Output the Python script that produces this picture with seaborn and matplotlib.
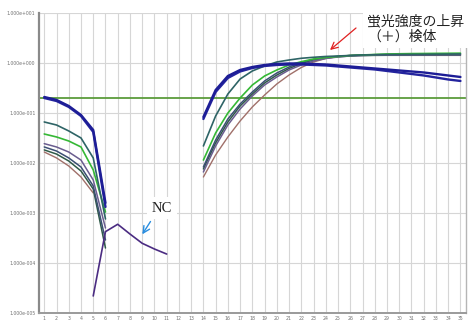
import numpy as np
import pandas as pd
import matplotlib
matplotlib.use("Agg")
import matplotlib.pyplot as plt
import seaborn as sns
from matplotlib.ticker import FuncFormatter, NullLocator

# Amplification data (delta Rn per cycle)
early_cycles = [1, 2, 3, 4, 5, 6]
late_cycles = list(range(14, 36))
nc_cycles = [5, 6, 7, 8, 9, 10, 11]

early_values = {
    "blue_a": [0.212, 0.185, 0.140, 0.0925, 0.0463, 0.00161],
    "blue_b": [0.202, 0.176, 0.134, 0.0883, 0.0423, 0.00134],
    "teal": [0.0670, 0.0583, 0.0443, 0.0321, 0.0128, 0.000769],
    "green": [0.0385, 0.0336, 0.0279, 0.0212, 0.00735, 0.00106],
    "purple": [0.0247, 0.0212, 0.0168, 0.0116, 0.00463, 0.000508],
    "slate": [0.0212, 0.0176, 0.0128, 0.00843, 0.00352, 0.000292],
    "dark": [0.0185, 0.0153, 0.0111, 0.00701, 0.00306, 0.000202],
    "brown": [0.0168, 0.0128, 0.00883, 0.00532, 0.00255],
}

late_values = {
    "blue_a": [0.0843, 0.292, 0.557, 0.735, 0.843, 0.925, 0.968, 0.991, 0.991, 0.968, 0.946,
               0.904, 0.863, 0.824, 0.787, 0.752, 0.718, 0.686, 0.655, 0.611, 0.570, 0.532],
    "blue_b": [0.0769, 0.267, 0.508, 0.686, 0.805, 0.883, 0.925, 0.946, 0.946, 0.925, 0.904,
               0.863, 0.824, 0.787, 0.752, 0.702, 0.655, 0.611, 0.570, 0.520, 0.474, 0.443],
    "teal": [0.0222, 0.0883, 0.243, 0.485, 0.702, 0.883, 1.062, 1.164, 1.259, 1.318, 1.368,
             1.400, 1.432, 1.466, 1.479, 1.493, 1.500, 1.507, 1.514, 1.521, 1.528, 1.535],
    "green": [0.0116, 0.0404, 0.101, 0.202, 0.368, 0.557, 0.735, 0.925, 1.076, 1.219, 1.306,
              1.368, 1.432, 1.466, 1.500, 1.535, 1.549, 1.563, 1.570, 1.578, 1.585, 1.592],
    "purple": [0.00670, 0.0222, 0.0583, 0.122, 0.222, 0.368, 0.532, 0.735, 0.925, 1.112, 1.247,
               1.337, 1.400, 1.432, 1.452, 1.466, 1.466, 1.466, 1.470, 1.470, 1.470, 1.470],
    "slate": [0.00843, 0.0292, 0.0769, 0.1535, 0.267, 0.443, 0.640, 0.843, 1.038, 1.191, 1.306,
              1.368, 1.432, 1.466, 1.486, 1.500, 1.507, 1.507, 1.514, 1.514, 1.521, 1.521],
    "dark": [0.00769, 0.0255, 0.0670, 0.140, 0.243, 0.404, 0.583, 0.787, 0.991, 1.164, 1.276,
             1.349, 1.400, 1.426, 1.439, 1.445, 1.445, 1.445, 1.445, 1.445, 1.445, 1.445],
    "brown": [0.00532, 0.0147, 0.0336, 0.0702, 0.134, 0.232, 0.386, 0.583, 0.824, 1.062, 1.247,
              1.368, 1.432, 1.466, 1.479, 1.486, 1.493, 1.493, 1.493, 1.493, 1.493, 1.493],
}

nc_values = [2.22e-5, 4.29e-4, 6.03e-4, 3.85e-4, 2.51e-4, 1.93e-4, 1.53e-4]

threshold = 0.2

colors = {
    "blue_a": "#1d1d96", "blue_b": "#24249e", "teal": "#2e6466", "green": "#35b835",
    "purple": "#6a5d8f", "slate": "#3b4f73", "dark": "#2f5a48", "brown": "#a0706a",
    "NC": "#4b2c82",
}
widths = {
    "blue_a": 1.7, "blue_b": 1.7, "teal": 1.2, "green": 1.2, "purple": 1.1,
    "slate": 1.1, "dark": 1.1, "brown": 1.0, "NC": 1.2,
}

rows = []
for name, vals in early_values.items():
    for c, v in zip(early_cycles, vals):
        rows.append((name, "early", c, v))
for name, vals in late_values.items():
    for c, v in zip(late_cycles, vals):
        rows.append((name, "late", c, v))
for c, v in zip(nc_cycles, nc_values):
    rows.append(("NC", "early", c, v))
df = pd.DataFrame(rows, columns=["sample", "segment", "cycle", "value"])

sns.set_theme(style="white")
plt.rcParams["font.family"] = ["DejaVu Sans"]

fig = plt.figure(figsize=(4.69, 3.20), dpi=100)
ax = fig.add_axes([0.0842, 0.021, 0.9088, 0.9375])
ax.set_yscale("log")

order = ["brown", "dark", "slate", "purple", "green", "teal", "blue_b", "blue_a", "NC"]
for name in order:
    for seg in ["early", "late"]:
        sub = df[(df["sample"] == name) & (df["segment"] == seg)]
        if sub.empty:
            continue
        sns.lineplot(data=sub, x="cycle", y="value", color=colors[name],
                     lw=widths[name], estimator=None, sort=True,
                     legend=False, ax=ax, zorder=3)

ax.axhline(threshold, color="#5c9c3c", lw=1.3, zorder=2.5)

ax.set_xlim(0.61, 35.43)
ax.set_ylim(1e-5, 10)
ax.set_xticks(range(1, 36))
ax.set_yticks([1e-5, 1e-4, 1e-3, 1e-2, 1e-1, 1e0, 1e1])
ax.yaxis.set_minor_locator(NullLocator())


def sci_label(v, pos):
    e = int(round(np.log10(v)))
    return f"1.000e{'+' if e >= 0 else '-'}{abs(e):03d}"


ax.yaxis.set_major_formatter(FuncFormatter(sci_label))
ax.set_xlabel("")
ax.set_ylabel("")
ax.grid(True, which="major", color="#d6d6d6", lw=0.8, zorder=0)
ax.tick_params(axis="both", length=0, labelsize=3.3, labelcolor="#707070")
ax.tick_params(axis="y", pad=3)
ax.tick_params(axis="x", pad=2)

for side, (col, lw) in {"left": ("#8a8a8a", 1.6), "bottom": ("#9a9a9a", 1.4),
                        "right": ("#b5b5b5", 1.0)}.items():
    ax.spines[side].set_color(col)
    ax.spines[side].set_linewidth(lw)
ax.spines["top"].set_visible(False)

# NC label with arrow
fig.text(161.7 / 469, 1 - 208 / 320, "NC", family=["Liberation Serif"], fontsize=10.5,
         ha="center", va="center", color="#222222",
         bbox=dict(facecolor="white", edgecolor="none", pad=3.5), zorder=5)
ax.annotate("", xy=(142.3 / 469, 1 - 234.3 / 320), xycoords="figure fraction",
            xytext=(150.5 / 469, 1 - 221.5 / 320), textcoords="figure fraction",
            arrowprops=dict(arrowstyle="->", color="#2a8ee0", lw=1.0,
                            shrinkA=0, shrinkB=0))

# Positive sample label with arrow
fig.text(367 / 469, 1 - 14.5 / 320, "蛍光強度の上昇\n（＋）検体",
         family=["Noto Sans CJK JP", "DejaVu Sans"], fontsize=10,
         ha="left", va="top", color="#222222", linespacing=1.12,
         bbox=dict(facecolor="white", edgecolor="none", pad=3), zorder=5)
ax.annotate("", xy=(330 / 469, 1 - 50 / 320), xycoords="figure fraction",
            xytext=(356 / 469, 1 - 28 / 320), textcoords="figure fraction",
            arrowprops=dict(arrowstyle="->", color="#e02020", lw=0.9,
                            shrinkA=0, shrinkB=0))

fig.savefig("out.png", dpi=100)
